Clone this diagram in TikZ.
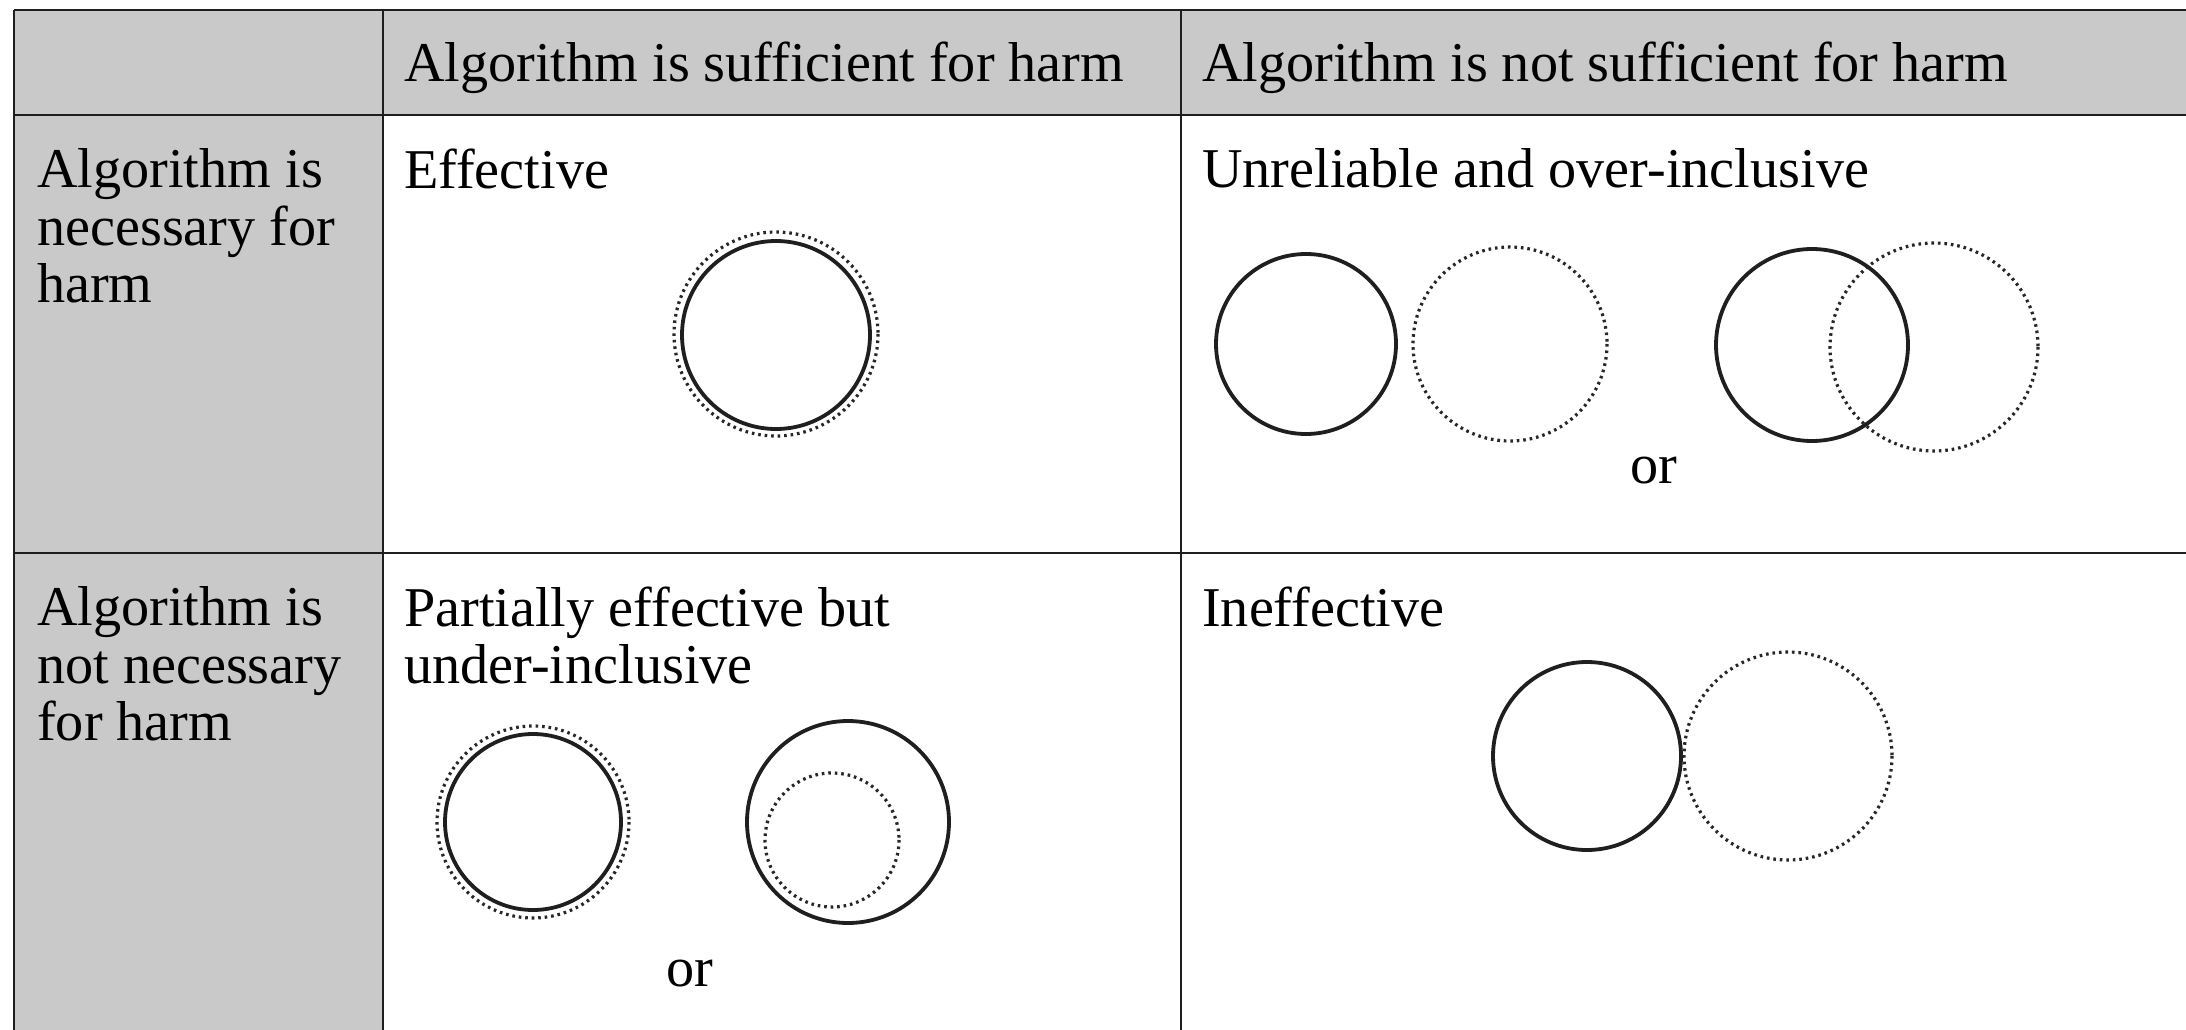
\documentclass[tikz,border=0pt]{standalone}
\usepackage{fontspec}
\setmainfont{Liberation Serif}
\definecolor{cellgray}{RGB}{201,201,201}
\definecolor{rulecol}{RGB}{30,30,30}
\begin{document}
\begin{tikzpicture}[x=1pt,y=-1pt,
  rule/.style={line width=2.5pt, draw=rulecol},
  txt/.style={anchor=north west, inner sep=0pt, align=left, font=\fontsize{56.2}{57.5}\selectfont},
  ortxt/.style={anchor=base, inner sep=0pt, font=\fontsize{56.2}{57.5}\selectfont},
  solidc/.style={line width=3.8pt, draw=black!88},
  dotc/.style={line width=3.2pt, draw=black!85, dash pattern=on 2.6pt off 3.9pt}]
\useasboundingbox (0,0) rectangle (2186,1030);
\fill[white] (0,0) rectangle (2186,1030);
% shaded cells
\fill[cellgray] (14,10) rectangle (2186,115);
\fill[cellgray] (14,115) rectangle (383,1030);
% rules
\draw[rule] (14,10) -- (2186,10);
\draw[rule] (14,115) -- (2186,115);
\draw[rule] (14,553) -- (2186,553);
\draw[rule] (14,10) -- (14,1030);
\draw[rule] (383,10) -- (383,1030);
\draw[rule] (1181,10) -- (1181,1030);
% header texts
\node[txt] (h1) at (404,41.6) {Algorithm is sufficient for harm};
\node[txt] (h2) at (1202,41.6) {Algorithm is not sufficient for harm};
% row labels
\node[txt] (r1) at (37,148.6) {Algorithm is\\necessary for\\harm};
\node[txt] (r2) at (37,586.6) {Algorithm is\\not necessary\\for harm};
% cell titles
\node[txt] (c11) at (404,148.6) {Effective};
\node[txt] (c12) at (1202,148.6) {Unreliable and over-inclusive};
\node[txt] (c21) at (404,586.6) {Partially effective but\\under-inclusive};
\node[txt] (c22) at (1202,586.6) {Ineffective};
% Effective
\draw[dotc] (776,334) circle [radius=102];
\draw[solidc] (776,335) circle [radius=94];
% Unreliable and over-inclusive
\draw[solidc] (1306,344) circle [radius=90];
\draw[dotc] (1510,344) circle [radius=97];
\draw[solidc] (1812,345) circle [radius=96];
\draw[dotc] (1934,347) circle [radius=104];
\node[ortxt] (or1) at (1654,483) {or};
% Partially effective
\draw[dotc] (533,822) circle [radius=96];
\draw[solidc] (533,822) circle [radius=88];
\draw[solidc] (848,822) circle [radius=101];
\draw[dotc] (832,840) circle [radius=67];
\node[ortxt] (or2) at (690,986) {or};
% Ineffective
\draw[solidc] (1587,756) circle [radius=94];
\draw[dotc] (1788,756) circle [radius=104];
\end{tikzpicture}
\end{document}
